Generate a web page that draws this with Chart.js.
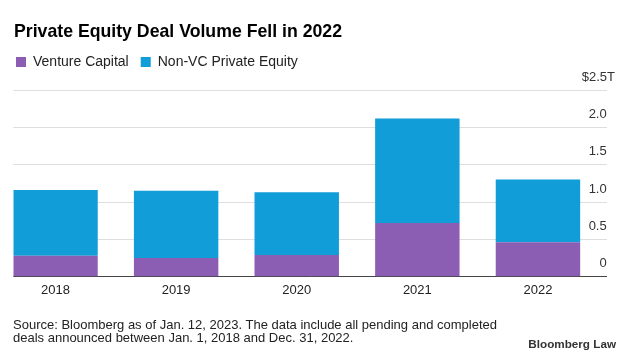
<!DOCTYPE html>
<html>
<head>
<meta charset="utf-8">
<script src="https://cdn.jsdelivr.net/npm/chart.js@4.4.1/dist/chart.umd.min.js"></script>
<style>
  html, body { margin: 0; padding: 0; background: #fff; }
  #wrap { position: relative; width: 633px; height: 358px; overflow: hidden; font-family: "Liberation Sans", Arial, sans-serif; }
  #c { position: absolute; left: 0; top: 0; }
  .title { position: absolute; left: 14px; top: 21.5px; font-weight: bold; font-size: 17.7px; line-height: 18px; color: #000; white-space: nowrap; }
  .source { position: absolute; left: 13px; top: 317.5px; font-size: 13px; line-height: 13.5px; color: #222; white-space: nowrap; }
  .brand { position: absolute; right: 17px; top: 337px; font-size: 11.7px; font-weight: bold; color: #333; white-space: nowrap; }
</style>
</head>
<body>
<div id="wrap">
  <canvas id="c" width="633" height="358"></canvas>
  <div class="title">Private Equity Deal Volume Fell in 2022</div>
  <div class="source">Source: Bloomberg as of Jan. 12, 2023. The data include all pending and completed<br>deals announced between Jan. 1, 2018 and Dec. 31, 2022.</div>
  <div class="brand">Bloomberg Law</div>
</div>
<script>
// ---- Data (trillions of US dollars) ----
const years = ['2018', '2019', '2020', '2021', '2022'];
const ventureCapital = [0.28, 0.25, 0.29, 0.72, 0.46];
const nonVcPrivateEquity = [0.88, 0.90, 0.84, 1.40, 0.84];
const seriesNames = ['Venture Capital', 'Non-VC Private Equity'];
const yTickValues = [0, 0.5, 1.0, 1.5, 2.0, 2.5];
const yTopLabel = '$2.5T';

const PURPLE = '#8b5eb4';
const BLUE = '#119dd8';

Chart.defaults.font.family = '"Liberation Sans", Arial, sans-serif';
Chart.defaults.color = '#222';

const toPoints = arr => arr.map((v, i) => ({ x: i, y: v }));

new Chart(document.getElementById('c'), {
  type: 'bar',
  data: {
    datasets: [
      { label: seriesNames[0], data: toPoints(ventureCapital), xAxisID: 'x', yAxisID: 'y', backgroundColor: PURPLE, borderWidth: 0, barPercentage: 0.7, categoryPercentage: 1 },
      { label: seriesNames[1], data: toPoints(nonVcPrivateEquity), xAxisID: 'x', yAxisID: 'y', backgroundColor: BLUE, borderWidth: 0, barPercentage: 0.7, categoryPercentage: 1 }
    ]
  },
  options: {
    responsive: false,
    animation: false,
    devicePixelRatio: 1,
    layout: { padding: { left: 4, right: 9.7, top: 43, bottom: 53.7 } },
    plugins: {
      legend: {
        display: true, position: 'top', align: 'start',
        labels: { boxWidth: 10, boxHeight: 10, padding: 12, font: { size: 14 }, color: '#222' }
      },
      title: { display: false },
      tooltip: { enabled: false }
    },
    scales: {
      x: {
        type: 'linear', position: 'bottom', stacked: true, offset: false,
        min: -0.35, max: 4.57,
        grid: { display: false, drawTicks: false },
        border: { display: false },
        afterBuildTicks: s => { s.ticks = years.map((_, i) => ({ value: i })); },
        ticks: { callback: v => years[v] ?? '', padding: 6, font: { size: 13 }, color: '#222', maxRotation: 0, autoSkip: false }
      },
      xTop: {
        type: 'linear', position: 'top', display: true,
        grid: { display: false, drawTicks: false }, border: { display: false },
        ticks: { display: false },
        afterFit: s => { s.height = 11; }
      },
      padLeft: {
        type: 'linear', position: 'left', display: true, min: 0, max: 1,
        grid: { display: false, drawTicks: false }, border: { display: false },
        ticks: { display: false },
        afterFit: s => { s.width = 9.3; }
      },
      y: {
        type: 'linear', position: 'right', stacked: true, min: 0, max: 2.5,
        grid: { color: c => (c.tick && c.tick.value === 0) ? '#444' : '#dedede', lineWidth: 1, drawTicks: false },
        border: { display: false },
        afterBuildTicks: s => { s.ticks = yTickValues.map(v => ({ value: v })); },
        ticks: {
          mirror: true, padding: 0, labelOffset: -13,
          callback: v => v === 2.5 ? '' : (v === 0 ? '0' : v.toFixed(1)),
          font: { size: 13 }, color: '#333'
        }
      },
      yTop: {
        type: 'linear', position: 'right', min: 0, max: 2.5,
        grid: { display: false, drawTicks: false }, border: { display: false },
        afterBuildTicks: s => { s.ticks = yTickValues.map(v => ({ value: v })); },
        ticks: {
          mirror: true, padding: 8.3, labelOffset: -13,
          callback: v => v === 2.5 ? yTopLabel : '',
          font: { size: 13 }, color: '#333'
        }
      }
    }
  }
});
</script>
</body>
</html>
